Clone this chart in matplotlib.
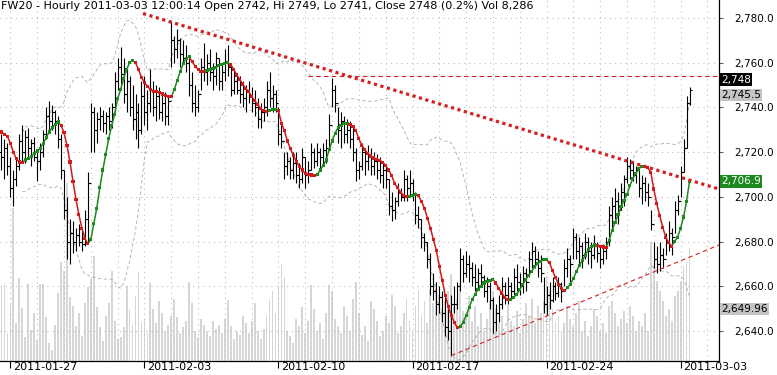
import numpy as np
import pandas as pd
import matplotlib
matplotlib.use("Agg")
import matplotlib.pyplot as plt
from matplotlib.collections import LineCollection
from matplotlib import transforms

# ---------------- data ----------------
symbol = "FW20"
timeframe = "Hourly"
timestamp = "2011-03-03 12:00:14"
bars_per_day = 9
week_labels = ["2011-01-27", "2011-02-03", "2011-02-10", "2011-02-17", "2011-02-24", "2011-03-03"]
week_start_idx = [3, 48, 93, 138, 183, 228]
first_open = 2720

high = [2728, 2726, 2724, 2718, 2712, 2718, 2728, 2732, 2730,
        2731, 2726, 2727, 2721, 2724, 2730, 2740, 2743, 2741,
        2739, 2736, 2728, 2712, 2700, 2690, 2689, 2686, 2688,
        2685, 2694, 2711, 2742, 2740, 2738, 2740, 2739, 2738,
        2740, 2742, 2756, 2762, 2767, 2762, 2758, 2754, 2750,
        2746, 2742, 2752, 2754, 2748, 2757, 2752, 2750, 2749,
        2746, 2747, 2745, 2778, 2772, 2775, 2771, 2770, 2768,
        2762, 2756, 2750, 2748, 2762, 2769, 2764, 2766, 2760,
        2765, 2762, 2760, 2766, 2768, 2760, 2757, 2755, 2754,
        2752, 2750, 2752, 2749, 2748, 2744, 2742, 2744, 2752,
        2756, 2750, 2748, 2740, 2732, 2720, 2720, 2718, 2720,
        2720, 2715, 2722, 2718, 2716, 2724, 2722, 2724, 2722,
        2724, 2726, 2737, 2753, 2750, 2740, 2738, 2736, 2735,
        2734, 2731, 2722, 2716, 2724, 2722, 2723, 2722, 2720,
        2719, 2718, 2716, 2714, 2708, 2702, 2700, 2706, 2704,
        2712, 2710, 2712, 2708, 2702, 2696, 2690, 2684, 2680,
        2675, 2666, 2662, 2660, 2658, 2655, 2650, 2656, 2660,
        2662, 2677, 2674, 2676, 2674, 2671, 2670, 2668, 2670,
        2665, 2664, 2662, 2655, 2652, 2656, 2664, 2662, 2664,
        2662, 2668, 2670, 2666, 2669, 2668, 2676, 2680, 2678,
        2676, 2674, 2664, 2660, 2662, 2664, 2662, 2664, 2662,
        2672, 2677, 2674, 2686, 2684, 2682, 2680, 2684, 2682,
        2680, 2683, 2680, 2678, 2679, 2682, 2696, 2700, 2704,
        2702, 2706, 2710, 2718, 2717, 2716, 2714, 2712, 2710,
        2709, 2706, 2694, 2680, 2678, 2680, 2677, 2684, 2689,
        2686, 2698, 2701, 2714, 2726, 2745, 2749]

low = [2712, 2708, 2710, 2700, 2696, 2705, 2712, 2716, 2715,
       2717, 2714, 2716, 2707, 2712, 2718, 2726, 2730, 2730,
       2728, 2722, 2708, 2690, 2672, 2670, 2675, 2676, 2678,
       2676, 2678, 2679, 2720, 2720, 2724, 2730, 2729, 2728,
       2730, 2731, 2738, 2748, 2750, 2742, 2738, 2736, 2730,
       2726, 2722, 2728, 2732, 2730, 2738, 2736, 2734, 2735,
       2734, 2732, 2732, 2758, 2760, 2762, 2758, 2760, 2756,
       2745, 2738, 2736, 2738, 2748, 2752, 2750, 2752, 2748,
       2750, 2748, 2748, 2752, 2754, 2745, 2746, 2746, 2742,
       2740, 2738, 2742, 2738, 2736, 2731, 2731, 2734, 2736,
       2740, 2738, 2738, 2723, 2722, 2708, 2710, 2708, 2708,
       2706, 2704, 2706, 2704, 2706, 2712, 2713, 2714, 2713,
       2714, 2715, 2722, 2740, 2738, 2724, 2722, 2724, 2724,
       2722, 2716, 2707, 2708, 2712, 2710, 2712, 2710, 2710,
       2708, 2706, 2704, 2704, 2692, 2689, 2690, 2696, 2698,
       2698, 2698, 2700, 2698, 2688, 2686, 2677, 2676, 2668,
       2656, 2654, 2647, 2648, 2644, 2638, 2636, 2629, 2648,
       2650, 2658, 2662, 2664, 2662, 2660, 2658, 2659, 2660,
       2655, 2653, 2650, 2639, 2640, 2644, 2650, 2652, 2652,
       2654, 2656, 2658, 2656, 2657, 2658, 2664, 2668, 2668,
       2664, 2662, 2648, 2647, 2650, 2653, 2654, 2655, 2653,
       2660, 2664, 2662, 2672, 2672, 2670, 2668, 2672, 2670,
       2668, 2672, 2671, 2668, 2670, 2672, 2678, 2686, 2690,
       2688, 2694, 2696, 2706, 2708, 2707, 2706, 2700, 2697,
       2698, 2696, 2685, 2668, 2666, 2667, 2668, 2674, 2676,
       2674, 2684, 2692, 2700, 2711, 2722, 2741]

close = [2718, 2722, 2714, 2704, 2708, 2714, 2725, 2720, 2727,
         2722, 2724, 2718, 2716, 2720, 2728, 2736, 2734, 2738,
         2734, 2726, 2712, 2694, 2680, 2684, 2680, 2683, 2680,
         2679, 2690, 2706, 2738, 2730, 2735, 2736, 2733, 2736,
         2734, 2740, 2752, 2758, 2755, 2746, 2752, 2740, 2735,
         2738, 2730, 2745, 2738, 2742, 2748, 2740, 2745, 2738,
         2742, 2736, 2743, 2770, 2766, 2770, 2764, 2762, 2760,
         2750, 2742, 2740, 2746, 2758, 2756, 2760, 2756, 2754,
         2762, 2752, 2756, 2760, 2758, 2748, 2752, 2748, 2746,
         2744, 2748, 2745, 2742, 2740, 2735, 2738, 2740, 2748,
         2744, 2746, 2742, 2728, 2725, 2714, 2716, 2712, 2715,
         2710, 2708, 2718, 2710, 2712, 2720, 2716, 2720, 2718,
         2721, 2722, 2732, 2748, 2742, 2730, 2734, 2728, 2730,
         2726, 2720, 2712, 2714, 2720, 2716, 2719, 2714, 2716,
         2712, 2710, 2712, 2708, 2696, 2694, 2698, 2702, 2700,
         2708, 2704, 2706, 2701, 2692, 2690, 2682, 2680, 2672,
         2660, 2658, 2652, 2655, 2648, 2642, 2640, 2652, 2652,
         2660, 2672, 2666, 2670, 2668, 2664, 2662, 2666, 2664,
         2658, 2660, 2654, 2644, 2648, 2652, 2660, 2656, 2660,
         2658, 2664, 2662, 2660, 2666, 2662, 2672, 2676, 2672,
         2668, 2666, 2652, 2656, 2654, 2660, 2657, 2661, 2658,
         2668, 2672, 2670, 2682, 2676, 2678, 2674, 2680, 2676,
         2674, 2678, 2675, 2672, 2676, 2680, 2692, 2696, 2698,
         2694, 2702, 2708, 2714, 2712, 2710, 2712, 2704, 2706,
         2702, 2700, 2688, 2672, 2670, 2674, 2672, 2680, 2684,
         2682, 2694, 2698, 2711, 2722, 2742, 2748]

volume = [5400, 5620, 2040, 4230, 11240, 2770, 6060, 3870, 1750,
          5620, 2260, 3500, 1530, 5620, 5620, 3210, 1310, 800,
          2630, 4960, 7300, 6640, 13070, 4670, 4020, 2560, 3500,
          1830, 4230, 5400, 5990, 7740, 3940, 2480, 1460, 3290,
          4230, 6570, 2920, 1610, 1750, 2480, 5480, 3800, 2630,
          4750, 6500, 2770, 3070, 2040, 5690, 3800, 2770, 4380,
          3500, 2190, 2630, 3290, 4530, 3210, 2040, 2480, 2920,
          5770, 4230, 2190, 1750, 3070, 2630, 2190, 1830, 2920,
          2340, 2630, 2040, 3070, 4450, 2560, 1610, 2190, 1900,
          3290, 2770, 2040, 2920, 4230, 2190, 1610, 2340, 3290,
          4530, 5110, 3500, 5480, 7150, 6130, 2190, 1830, 1310,
          3070, 2560, 3940, 2040, 2920, 5550, 3800, 2190, 2770,
          1610, 3500, 5550, 5110, 3070, 2560, 2040, 4020, 3290,
          2190, 4530, 5770, 3500, 1900, 2560, 1460, 4380, 3800,
          2920, 1830, 2190, 3290, 2770, 4820, 4020, 2040, 2560,
          3500, 4530, 2920, 2190, 4020, 5180, 3290, 4380, 2770,
          5260, 4230, 5770, 4820, 3800, 4380, 5110, 6420, 4020,
          4530, 5690, 3650, 3290, 4750, 2920, 4020, 2560, 3500,
          2190, 3070, 4380, 5110, 3800, 2770, 3290, 2190, 4090,
          2920, 2560, 3650, 2040, 3070, 4230, 3290, 4530, 2770,
          4020, 3500, 4380, 6210, 5110, 3800, 2920, 3290, 2190,
          2770, 4020, 3070, 2560, 3500, 4380, 2190, 2920, 1830,
          2560, 3800, 3290, 2190, 2770, 2040, 4020, 4380, 3500,
          2560, 3070, 3650, 2770, 4020, 3290, 2190, 2920, 2560,
          3500, 2190, 8760, 6940, 5840, 5110, 4380, 3290, 3800,
          2920, 4750, 5110, 5840, 6940, 7300, 8286]

ma = [2729, 2728, 2727, 2724, 2720, 2717, 2715.6, 2715.4, 2716.5,
      2717.2, 2718, 2719.5, 2720.5, 2721.8, 2724, 2726.5, 2729, 2731,
      2732.5, 2733.5, 2732, 2728.6, 2723, 2715.6, 2707, 2699, 2692,
      2686, 2681.5, 2679, 2681, 2688, 2695, 2704, 2712, 2719,
      2726, 2732, 2737, 2744, 2748, 2753, 2757, 2760, 2761,
      2760, 2757, 2753.5, 2751, 2749.5, 2748, 2747.3, 2747, 2746.6,
      2746, 2745.5, 2745, 2744.7, 2748, 2752, 2756, 2759.5, 2762,
      2762.6, 2760.5, 2758.5, 2757, 2756.2, 2756, 2756.5, 2757, 2757.5,
      2758, 2758.6, 2759.2, 2759.7, 2760, 2759, 2757, 2754.5, 2752.5,
      2750.5, 2748.5, 2747, 2745, 2743, 2741.5, 2739.5, 2738.5, 2738,
      2738.5, 2739, 2739.1, 2738.5, 2733, 2729.5, 2725, 2721.5, 2718.5,
      2716, 2713.5, 2712, 2710.5, 2710, 2709.8, 2709.7, 2710, 2712,
      2714, 2716.5, 2721, 2725, 2728.5, 2731, 2732, 2732.8, 2733,
      2732.3, 2731.3, 2729.5, 2726, 2723, 2721, 2719.5, 2718.3, 2717.4,
      2716.8, 2716.4, 2715.5, 2714, 2712, 2709.5, 2706, 2704, 2702,
      2700.8, 2700, 2700.3, 2700.8, 2701, 2700.5, 2698, 2695, 2690.5,
      2686, 2681, 2676, 2669, 2662.5, 2656, 2651, 2647, 2644,
      2641.5, 2642, 2644, 2647, 2650.5, 2654, 2656.5, 2658.5, 2660,
      2661.5, 2662.3, 2662.8, 2663, 2661.5, 2659, 2657, 2655, 2654,
      2654.2, 2655, 2656.5, 2658.5, 2660.8, 2663, 2665, 2666.7, 2668.7,
      2670.2, 2671.2, 2671.8, 2672, 2670.5, 2667, 2664, 2661, 2659,
      2658, 2659.3, 2661, 2663.5, 2666.5, 2669.5, 2671.5, 2674, 2676.5,
      2677.8, 2678.5, 2678.3, 2678, 2677.6, 2677.5, 2680.5, 2685, 2688.5,
      2692, 2695.5, 2698.5, 2701, 2705, 2708.4, 2710.5, 2712.6, 2713.6,
      2713.4, 2713.0, 2711, 2703.5, 2697, 2691.5, 2686.5, 2682, 2679.5,
      2678, 2680, 2682, 2686, 2691, 2698, 2706.9]

band_period = 20
band_width = 2.0
band_upper_last = 2745.5
band_lower_last = 2649.96

down_line_x = [47.5, 240.9]
down_line_y = [2782.0, 2703.5]
resist_x = [102.9, 240.9]
resist_y = [2754.0, 2754.0]
up_line_x = [151.0, 240.9]
up_line_y = [2629.0, 2678.5]

price_ticks = [2640, 2660, 2680, 2700, 2720, 2740, 2760, 2780]

# ---------------- derived ----------------
n = len(close)
x = np.arange(n)
opens = [first_open] + close[:-1]
cs = pd.Series(close, dtype=float)
mid = cs.rolling(band_period, min_periods=8).mean()
sd = cs.rolling(band_period, min_periods=8).std(ddof=0)
upper = mid + band_width * sd
lower = mid - band_width * sd

GREEN = "#1c8a1c"
RED = "#d01c1c"

fig = plt.figure(figsize=(7.77, 3.75), dpi=100)
rect = [0, 14 / 375, 719 / 777, 361 / 375]
axv = fig.add_axes(rect, zorder=0)
ax = fig.add_axes(rect, zorder=1)
ax.patch.set_visible(False)

xlim = (-0.5, 240.9)
ylim = (2626.6, 2788.05)
for a in (ax, axv):
    a.set_xlim(*xlim)
axv.set_ylim(0, 26500)
axv.axis("off")
axv.bar(x, volume, width=0.62, color="#d6d6d6", linewidth=0)

ax.set_ylim(*ylim)

# grid
day_idx = list(range(week_start_idx[0], int(xlim[1]) + 1, bars_per_day))
for d in day_idx:
    ax.axvline(d, color="#b8b8b8", lw=0.75, linestyle=(0, (1, 4)), zorder=0)
for p in price_ticks:
    ax.axhline(p, color="#b8b8b8", lw=0.75, linestyle=(0, (1, 4)), zorder=0)

# bands
ax.plot(x, upper, color="#ababab", lw=0.6, linestyle=(0, (4, 3)), zorder=1)
ax.plot(x, lower, color="#ababab", lw=0.6, linestyle=(0, (4, 3)), zorder=1)

# OHLC bars
ax.vlines(x, low, high, color="black", lw=0.8, zorder=3)
ax.hlines(opens, x - 0.7, x, color="black", lw=0.8, zorder=3)
ax.hlines(close, x, x + 0.7, color="black", lw=0.8, zorder=3)

# moving average coloured by slope
ma_arr = np.array(ma)
segs = [[(i, ma_arr[i]), (i + 1, ma_arr[i + 1])] for i in range(n - 1)]
seg_cols = [GREEN if ma_arr[i + 1] >= ma_arr[i] else RED for i in range(n - 1)]
ax.add_collection(LineCollection(segs, colors=seg_cols, linewidths=1.1, zorder=4))
dot_cols = [seg_cols[0]] + seg_cols
ax.scatter(x, ma_arr, s=5, c=dot_cols, marker="s", linewidths=0, zorder=5)

# trend lines
ax.plot(down_line_x, down_line_y, color="#d42020", lw=2.3, linestyle=(0, (1, 1.1)), zorder=6)
ax.plot(resist_x, resist_y, color="#d42020", lw=0.8, linestyle=(0, (4, 3)), zorder=6)
ax.plot(up_line_x, up_line_y, color="#d42020", lw=0.8, linestyle=(0, (4, 3)), zorder=6)

# axes styling
for s in ("left", "top"):
    ax.spines[s].set_visible(False)
ax.spines["right"].set_color("black")
ax.spines["bottom"].set_color("black")
ax.spines["right"].set_linewidth(0.9)
ax.spines["bottom"].set_linewidth(0.9)

ax.yaxis.tick_right()
ax.set_yticks(price_ticks)
ax.set_yticklabels([f"{p:,.1f}" for p in price_ticks])
ax.tick_params(axis="y", which="both", direction="out", length=3, width=0.8,
               color="#606060", pad=8, labelsize=7.5, labelcolor="black")

ax.set_xticks(week_start_idx)
ax.set_xticklabels([])
ax.tick_params(axis="x", which="major", direction="out", length=5, width=0.8,
               color="black")
off = transforms.ScaledTranslation(3 / 100, -1 / 100, fig.dpi_scale_trans)
trans = transforms.blended_transform_factory(ax.transData, ax.transAxes) + off
for xi, lab in zip(week_start_idx, week_labels):
    ax.text(xi, 0, lab, transform=trans, ha="left", va="top", fontsize=8)

# title
last_o, last_h, last_l, last_c = opens[-1], high[-1], low[-1], close[-1]
pct = (close[-1] - close[-2]) / close[-2] * 100
title = (f"{symbol} - {timeframe} {timestamp} Open {last_o}, Hi {last_h}, "
         f"Lo {last_l}, Close {last_c} ({pct:.1f}%) Vol {volume[-1]:,}")
fig.text(1 / 777, 1 - 1 / 375, title, ha="left", va="top", fontsize=8)

# right-hand value boxes
ytr = ax.get_yaxis_transform()
def tag(val, txt, fc, tc, dy=0):
    ax.annotate(txt, xy=(1, val), xycoords=ytr, xytext=(2, dy),
                textcoords="offset pixels", ha="left", va="center",
                fontsize=7.5, color=tc, annotation_clip=False,
                bbox=dict(boxstyle="square,pad=0.12", fc=fc, ec="none"))

tag(band_lower_last, f"{band_lower_last:,.2f}", "#c4c4c4", "black")
tag(ma_arr[-1], f"{ma_arr[-1]:,.1f}", GREEN, "white")
tag(band_upper_last, f"{band_upper_last:,.1f}", "#c4c4c4", "black")
tag(close[-1], f"{close[-1]:,}", "black", "white", dy=10)

fig.savefig("out.png", dpi=100)
